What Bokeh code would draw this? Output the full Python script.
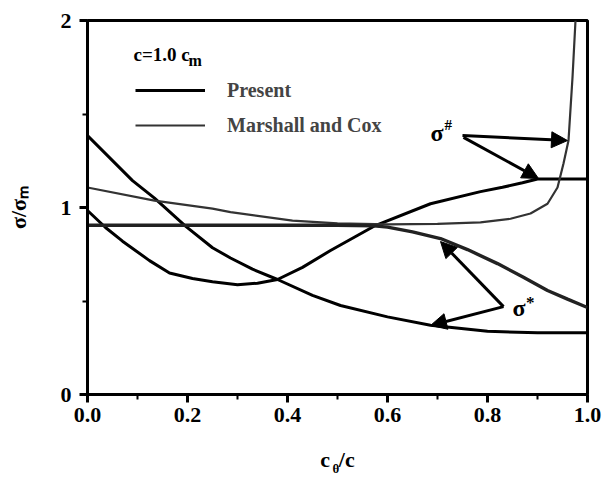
import math
from bokeh.plotting import figure
from bokeh.models import (Range1d, FixedTicker, Legend, LegendItem, Label,
                          Arrow, NormalHead, ColumnDataSource)
from bokeh.embed import file_html
from bokeh.resources import INLINE

# ---- data ----
present_sharp_x = [0, 0.036, 0.07, 0.124, 0.164, 0.21, 0.25, 0.30, 0.34, 0.38, 0.43, 0.486, 0.573, 0.686, 0.786, 0.83, 0.87, 0.9, 1.0]
present_sharp_y = [0.984, 0.893, 0.82, 0.716, 0.65, 0.62, 0.603, 0.587, 0.595, 0.615, 0.68, 0.77, 0.90, 1.02, 1.085, 1.108, 1.132, 1.152, 1.152]

present_star_x = [0, 0.09, 0.134, 0.196, 0.25, 0.286, 0.33, 0.38, 0.45, 0.506, 0.6, 0.686, 0.8, 0.9, 1.0]
present_star_y = [1.385, 1.144, 1.05, 0.90, 0.785, 0.73, 0.67, 0.615, 0.53, 0.476, 0.415, 0.37, 0.338, 0.33, 0.33]

marshall_sharp_x = [0, 0.134, 0.25, 0.286, 0.41, 0.5, 0.6, 0.7, 0.786, 0.846, 0.886, 0.92, 0.94, 0.952, 0.962, 0.97, 0.976]
marshall_sharp_y = [1.107, 1.037, 0.994, 0.975, 0.93, 0.915, 0.91, 0.912, 0.92, 0.94, 0.968, 1.02, 1.107, 1.235, 1.358, 1.695, 2.0]

marshall_star_x = [0, 0.2, 0.4, 0.5, 0.573, 0.6, 0.65, 0.706, 0.76, 0.82, 0.87, 0.92, 0.96, 1.0]
marshall_star_y = [0.905, 0.905, 0.905, 0.905, 0.902, 0.895, 0.87, 0.834, 0.775, 0.70, 0.63, 0.556, 0.51, 0.465]

x_ticks = [0.0, 0.2, 0.4, 0.6, 0.8, 1.0]
x_tick_labels = ["0.0", "0.2", "0.4", "0.6", "0.8", "1.0"]
x_minor = [0.1, 0.3, 0.5, 0.7, 0.9]
y_ticks = [0, 1, 2]
y_tick_labels = ["0", "1", "2"]
y_minor = [0.5, 1.5]

series_labels = ["Present", "Marshall and Cox"]
x_title = "c\u2009\u2009/c"
x_title_sub = "θ"
y_title = "σ/σₘ"

# arrows (annotation positions)
arrow_x_start = [0.75, 0.752, 0.832, 0.832]
arrow_y_start = [1.385, 1.375, 0.47, 0.47]
arrow_x_end = [0.96, 0.902, 0.706, 0.686]
arrow_y_end = [1.358, 1.155, 0.818, 0.369]

SERIF = "Liberation Serif"

p = figure(width=605, height=478, output_backend="svg", toolbar_location=None,
           x_range=Range1d(0, 1), y_range=Range1d(0, 2),
           min_border_left=87, min_border_right=18, min_border_top=20, min_border_bottom=84)
p.grid.visible = False
p.background_fill_color = "white"
p.outline_line_color = "black"
p.outline_line_width = 3
p.outline_line_alpha = 1

for ax, ticks, minor, labels, stand in [(p.xaxis[0], x_ticks, x_minor, x_tick_labels, 5),
                                         (p.yaxis[0], y_ticks, y_minor, y_tick_labels, 8)]:
    ax.ticker = FixedTicker(ticks=ticks, minor_ticks=minor)
    ax.major_label_overrides = {t: l for t, l in zip(ticks, labels)}
    ax.axis_line_width = 3
    ax.major_tick_line_width = 3
    ax.minor_tick_line_width = 2
    ax.major_tick_out = 8
    ax.major_tick_in = 0
    ax.minor_tick_out = 5
    ax.minor_tick_in = 0
    ax.major_label_text_font = SERIF
    ax.major_label_text_font_style = "bold"
    ax.major_label_text_font_size = "22px"
    ax.major_label_text_color = "black"
    ax.major_label_standoff = stand
    ax.axis_label_text_font = SERIF
    ax.axis_label_text_font_style = "bold"
    ax.axis_label_text_font_size = "22px"
    ax.axis_label_text_color = "black"

p.xaxis.axis_label = x_title
p.xaxis.axis_label_standoff = 22
p.yaxis.axis_label = y_title
p.yaxis.axis_label_standoff = 27

r_ps = p.line(present_sharp_x, present_sharp_y, line_color="black", line_width=3)
r_pst = p.line(present_star_x, present_star_y, line_color="black", line_width=3)
r_ms = p.line(marshall_sharp_x, marshall_sharp_y, line_color="#333333", line_width=2.2)
r_mst = p.line(marshall_star_x, marshall_star_y, line_color="#222222", line_width=3.4)

legend = Legend(items=[LegendItem(label=series_labels[0], renderers=[r_pst]),
                       LegendItem(label=series_labels[1], renderers=[r_ms])],
                location=(48, 256), glyph_width=70, glyph_height=26, label_height=26,
                spacing=9, label_standoff=22, padding=0, margin=0,
                border_line_alpha=0, background_fill_alpha=0,
                label_text_font=SERIF, label_text_font_size="20px",
                label_text_font_style="bold")
p.add_layout(legend)

def lab(x, y, t, size, bold=True, angle=0.0, align="left", place=None):
    l = Label(x=x, y=y, text=t, text_font=SERIF, text_font_size=size,
              text_font_style="bold" if bold else "normal",
              text_baseline="middle", text_align=align, angle=angle,
              text_color="black")
    if place is None:
        p.add_layout(l)
    else:
        p.add_layout(l, place)

# legend title c=1.0 c_m
lab(0.092, 1.82, "c=1.0 c", "19px")
lab(0.202, 1.785, "m", "16px")

# sigma annotations
lab(0.686, 1.40, "σ", "24px")
lab(0.714, 1.44, "#", "15px")
lab(0.850, 0.46, "σ", "24px")
lab(0.877, 0.49, "*", "17px")

arrows = ColumnDataSource(dict(x0=arrow_x_start, y0=arrow_y_start, x1=arrow_x_end, y1=arrow_y_end))
p.add_layout(Arrow(x_start="x0", y_start="y0", x_end="x1", y_end="y1", source=arrows,
                   line_width=3, line_color="black",
                   end=NormalHead(size=16, fill_color="black", line_color="black")))

# subscript of the x title (outside the frame, so kept in a side panel)
lab(0.49, -0.398, x_title_sub, "13px", place="above")

open("out.html", "w").write(file_html(p, INLINE))
